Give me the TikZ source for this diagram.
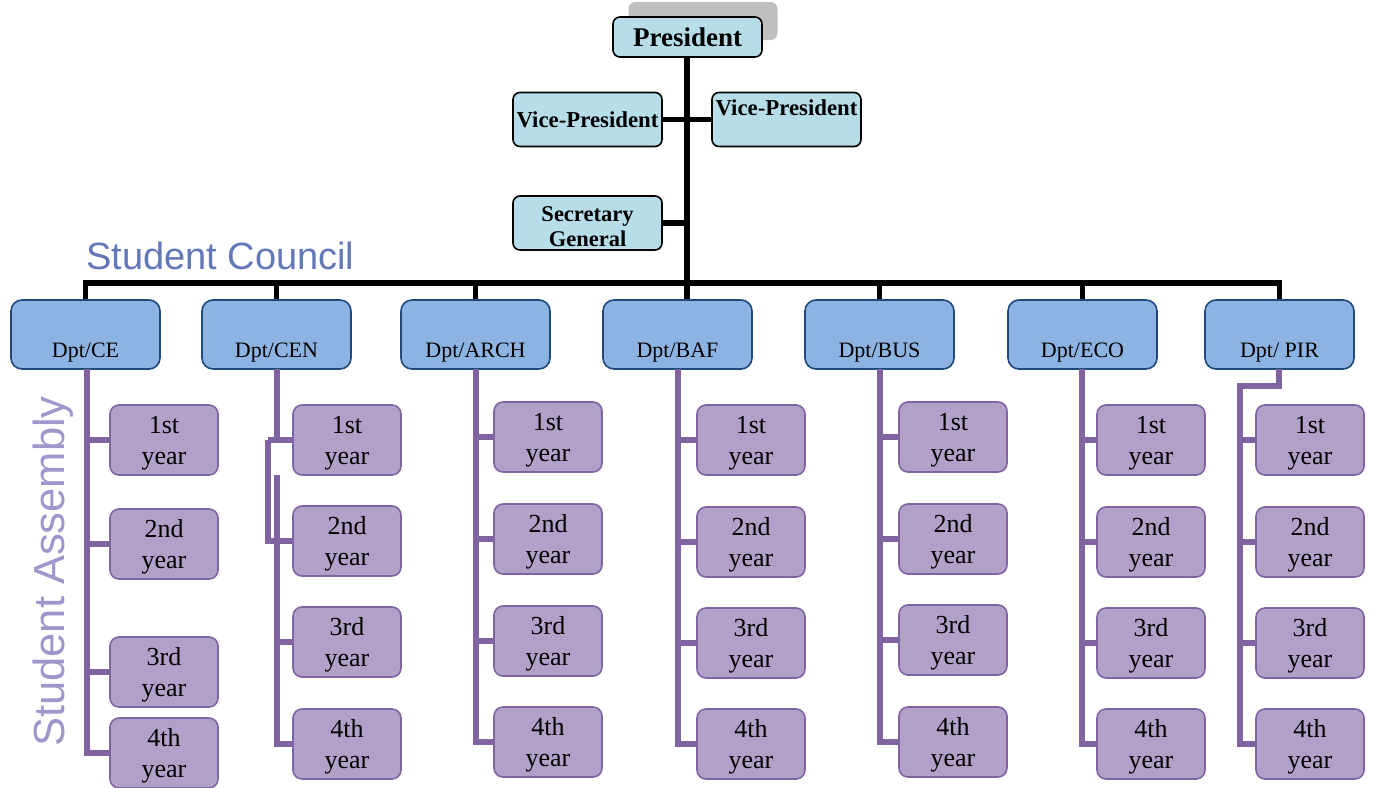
\documentclass[tikz,border=0pt]{standalone}
\usepackage{fontspec}
\setmainfont{Liberation Serif}
\newfontfamily\arialf{Liberation Sans}
\definecolor{topfill}{HTML}{B7DEE8}
\definecolor{grayrect}{HTML}{BFBFBF}
\definecolor{deptfill}{HTML}{8DB3E2}
\definecolor{deptborder}{HTML}{1F497D}
\definecolor{yrfill}{HTML}{B1A0C7}
\definecolor{yrborder}{HTML}{8064A2}
\definecolor{plc}{HTML}{8064A2}
\definecolor{councilc}{HTML}{6477B8}
\definecolor{assemblyc}{HTML}{A096CC}
\begin{document}
\begin{tikzpicture}[x=1pt,y=-1pt,
  topbox/.style={draw=black, line width=1.6pt, fill=topfill, rounded corners=7pt,
    minimum width=149pt, minimum height=54pt, inner sep=0pt, align=center,
    font=\bfseries\fontsize{22.8}{25}\selectfont},
  toptext/.style={inner sep=0pt, align=center, font=\bfseries\fontsize{22.8}{25}\selectfont},
  shadowbox/.style={fill=grayrect, rounded corners=7pt, minimum width=149pt, minimum height=38pt, inner sep=0pt},
  deptbox/.style={draw=deptborder, line width=1.6pt, fill=deptfill, rounded corners=11pt,
    minimum width=149pt, minimum height=69pt, inner sep=0pt},
  depttext/.style={anchor=base, inner sep=0pt, font=\fontsize{22}{25}\selectfont},
  yrbox/.style={draw=yrborder, line width=1.6pt, fill=yrfill, rounded corners=9pt,
    minimum width=108pt, minimum height=70pt, inner sep=0pt},
  yrtext/.style={align=center, inner sep=0pt, font=\fontsize{26}{31}\selectfont},
  bl/.style={line width=5.5pt, black},
  pl/.style={line width=5.5pt, plc},
]
\useasboundingbox (0,0) rectangle (1373,787);

% top level
\node[shadowbox] (shadow) at (703,21) {};
\node[topbox, minimum height=40pt, font=\bfseries\fontsize{27}{30}\selectfont] (pres) at (687.5,37) {President};
\node[topbox] (vpl) at (587.5,119.5) {Vice-President};
\node[topbox] (vpr) at (786.5,119.5) {};
\node[toptext, anchor=base] (vprt) at (786.5,115) {Vice-President};
\node[topbox] (sec) at (587.5,223) {};
\node[toptext, font=\bfseries\fontsize{22.5}{25}\selectfont] (sect) at (587.5,227) {Secretary\\General};

\coordinate (hub) at (687,283);
\draw[bl] (pres.south -| hub) -- (hub);
\draw[bl] (vpl.east) -- (vpr.west);
\draw[bl] (sec.east) -- (sec.east -| hub);

% labels
\node[anchor=base west, inner sep=0pt, text=councilc, font=\arialf\fontsize{38}{42}\selectfont] (council) at (86,269) {Student Council};
\node[anchor=base west, inner sep=0pt, rotate=90, text=assemblyc, font=\arialf\fontsize{43.5}{48}\selectfont] (assembly) at (64,747) {Student Assembly};

% departments
\foreach \n/\cx/\lab in {CE/85.5/{Dpt/CE}, CEN/276.5/{Dpt/CEN}, ARCH/475.5/{Dpt/ARCH}, BAF/677.5/{Dpt/BAF}, BUS/879.5/{Dpt/BUS}, ECO/1082.5/{Dpt/ECO}, PIR/1279.5/{Dpt/ PIR}}{
  \node[deptbox] (d\n) at (\cx,334.5) {};
  \node[depttext] (dt\n) at (\cx,357) {\lab};
}
\draw[bl] (dCE.north) -- (dCE.north |- hub) -- (dPIR.north |- hub) -- (dPIR.north);
\foreach \n in {CEN,ARCH,BUS,ECO}{\draw[bl] (d\n.north |- hub) -- (d\n.north);}
\draw[bl] (hub) -- (dBAF.north -| hub);

% year boxes
\foreach \n/\xl/\ta/\tb/\tc/\td in {CE/110/405/509/637/718, CEN/293/405/506/607/709, ARCH/494/402/504/606/707, BAF/697/405/507/608/709, BUS/899/402/504/605/707, ECO/1097/405/507/608/709, PIR/1256/405/507/608/709}{
  \node[yrbox] (\n-1) at (\xl+54,\ta+35) {};
  \node[yrtext] (\n-1t) at (\xl+54,\ta+38) {1st\\year};
  \node[yrbox] (\n-2) at (\xl+54,\tb+35) {};
  \node[yrtext] (\n-2t) at (\xl+54,\tb+38) {2nd\\year};
  \node[yrbox] (\n-3) at (\xl+54,\tc+35) {};
  \node[yrtext] (\n-3t) at (\xl+54,\tc+38) {3rd\\year};
  \node[yrbox] (\n-4) at (\xl+54,\td+35) {};
  \node[yrtext] (\n-4t) at (\xl+54,\td+38) {4th\\year};
}

% connectors of the assembly
\foreach \n/\lx in {CE/87, ARCH/476, BAF/678, BUS/880, ECO/1082}{
  \coordinate (t\n) at (\lx,369);
  \draw[pl] (t\n) -- (\n-4.west -| t\n) -- (\n-4.west);
  \draw[pl] (\n-1.west -| t\n) -- (\n-1.west);
  \draw[pl] (\n-2.west -| t\n) -- (\n-2.west);
  \draw[pl] (\n-3.west -| t\n) -- (\n-3.west);
}
% CEN (with its offset branch)
\coordinate (tCEN) at (277,369);
\coordinate (jCEN) at (268,440);
\coordinate (sCEN) at (277,475);
\draw[pl] (tCEN) -- (CEN-1.west -| tCEN);
\draw[pl] (jCEN) -- (CEN-1.west);
\draw[pl] (jCEN) -- (CEN-2.west -| jCEN) -- (CEN-2.west);
\draw[pl] (sCEN) -- (CEN-4.west -| sCEN) -- (CEN-4.west);
\draw[pl] (CEN-3.west -| sCEN) -- (CEN-3.west);
% PIR (with its bend)
\coordinate (tPIR) at (1279,369);
\coordinate (bPIR) at (1240,386);
\draw[pl] (tPIR) -- (tPIR |- bPIR) -- (bPIR) -- (PIR-4.west -| bPIR) -- (PIR-4.west);
\draw[pl] (PIR-1.west -| bPIR) -- (PIR-1.west);
\draw[pl] (PIR-2.west -| bPIR) -- (PIR-2.west);
\draw[pl] (PIR-3.west -| bPIR) -- (PIR-3.west);
\end{tikzpicture}
\end{document}
